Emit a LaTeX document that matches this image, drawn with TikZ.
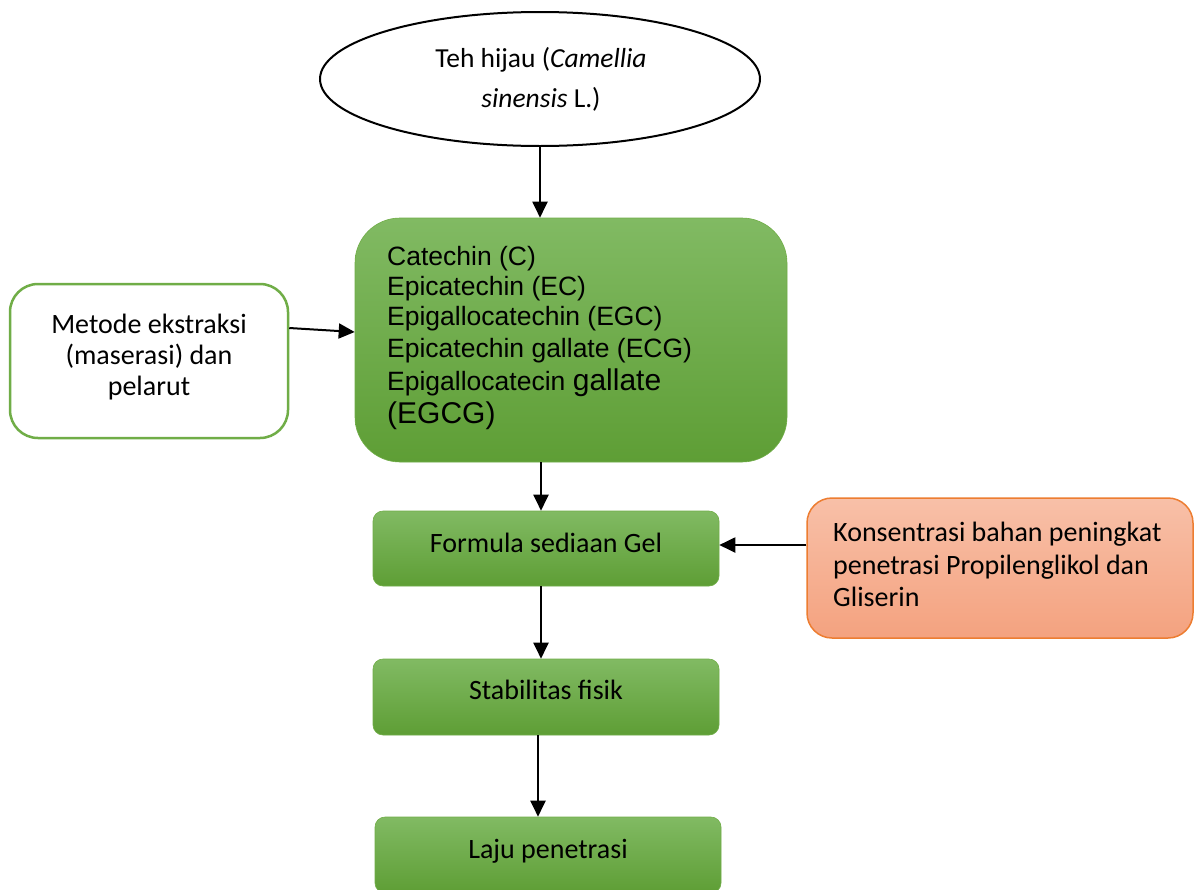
\documentclass[tikz,border=0pt]{standalone}
\usepackage{fontspec}
\setmainfont{Carlito}
\newfontfamily\arialf{Liberation Sans}
\usetikzlibrary{shapes.geometric,arrows.meta,calc}
\definecolor{gtop}{HTML}{81BA63}
\definecolor{gbot}{HTML}{5E9E35}
\definecolor{gline}{HTML}{70AD47}
\definecolor{otop}{HTML}{F8C0A8}
\definecolor{obot}{HTML}{F4A27F}
\definecolor{oline}{HTML}{ED7D31}
\tikzset{
  arr/.style={line width=2pt,-{Triangle[length=16pt,width=15pt]}},
  gbox/.style={rectangle,rounded corners=10pt,top color=gtop,bottom color=gbot,draw=gline,line width=0.6pt,inner sep=0pt},
  ctext/.style={inner sep=0pt,font=\fontsize{28}{31}\selectfont},
}
\begin{document}
\begin{tikzpicture}[x=1pt,y=-1pt]
\useasboundingbox[fill=white] (0,0) rectangle (1196,889);
% shapes
\node[ellipse,draw=black,line width=2pt,fill=white,minimum width=440pt,minimum height=134pt,inner sep=0pt] (ell) at (540,79) {};
\node[gbox,rounded corners=45pt,minimum width=432pt,minimum height=244pt] (big) at (571,340) {};
\node[rectangle,rounded corners=28pt,draw=gline,line width=2.5pt,fill=white,minimum width=278pt,minimum height=154pt,inner sep=0pt] (left) at (149,361) {};
\node[gbox,minimum width=346pt,minimum height=75pt] (formula) at (546,548.5) {};
\node[rectangle,rounded corners=25pt,top color=otop,bottom color=obot,draw=oline,line width=1.5pt,minimum width=386pt,minimum height=140pt,inner sep=0pt] (orange) at (1000,568) {};
\node[gbox,minimum width=346pt,minimum height=76pt] (stab) at (546,697) {};
\node[gbox,minimum width=346pt,minimum height=76pt] (laju) at (548,855) {};
% texts
\node[ctext,align=center,font=\fontsize{27.5}{40}\selectfont] (tell) at (541,79) {Teh hijau (\textit{Camellia}\\\textit{sinensis} L.)};
\node[inner sep=0pt,anchor=north west,align=left,font=\arialf\fontsize{26.5}{30}\selectfont] (tbig) at (387,246)
  {Catechin (C)\\Epicatechin (EC)\\Epigallocatechin (EGC)\\[2pt]Epicatechin gallate (ECG)\\[3pt]Epigallocatecin {\fontsize{30}{33}\selectfont gallate}\\[3pt]{\fontsize{30}{33}\selectfont (EGCG)}};
\node[ctext,align=center] (tleft) at (149,357) {Metode ekstraksi\\(maserasi) dan\\pelarut};
\node[ctext,anchor=base] (tformula) at (546,552) {Formula sediaan Gel};
\node[ctext,anchor=north west,align=left,font=\fontsize{28}{32.5}\selectfont] (torange) at (833,522) {Konsentrasi bahan peningkat\\penetrasi Propilenglikol dan\\Gliserin};
\node[ctext,anchor=base] (tstab) at (546,699) {Stabilitas fisik};
\node[ctext,anchor=base] (tlaju) at (548,858) {Laju penetrasi};
% connectors
\draw[arr] (ell.south) -- (ell.south |- big.north);
\draw[arr] ([yshift=33pt]left.east) -- ([yshift=8pt]big.west);
\draw[arr] ([xshift=-30pt]big.south) -- ([xshift=-30pt]big.south |- formula.north);
\draw[arr] ([yshift=23pt]orange.west) -- ([yshift=23pt]orange.west -| formula.east);
\draw[arr] ([xshift=-5pt]formula.south) -- ([xshift=-5pt]formula.south |- stab.north);
\draw[arr] ([xshift=-8pt]stab.south) -- ([xshift=-8pt]stab.south |- laju.north);
\end{tikzpicture}
\end{document}
